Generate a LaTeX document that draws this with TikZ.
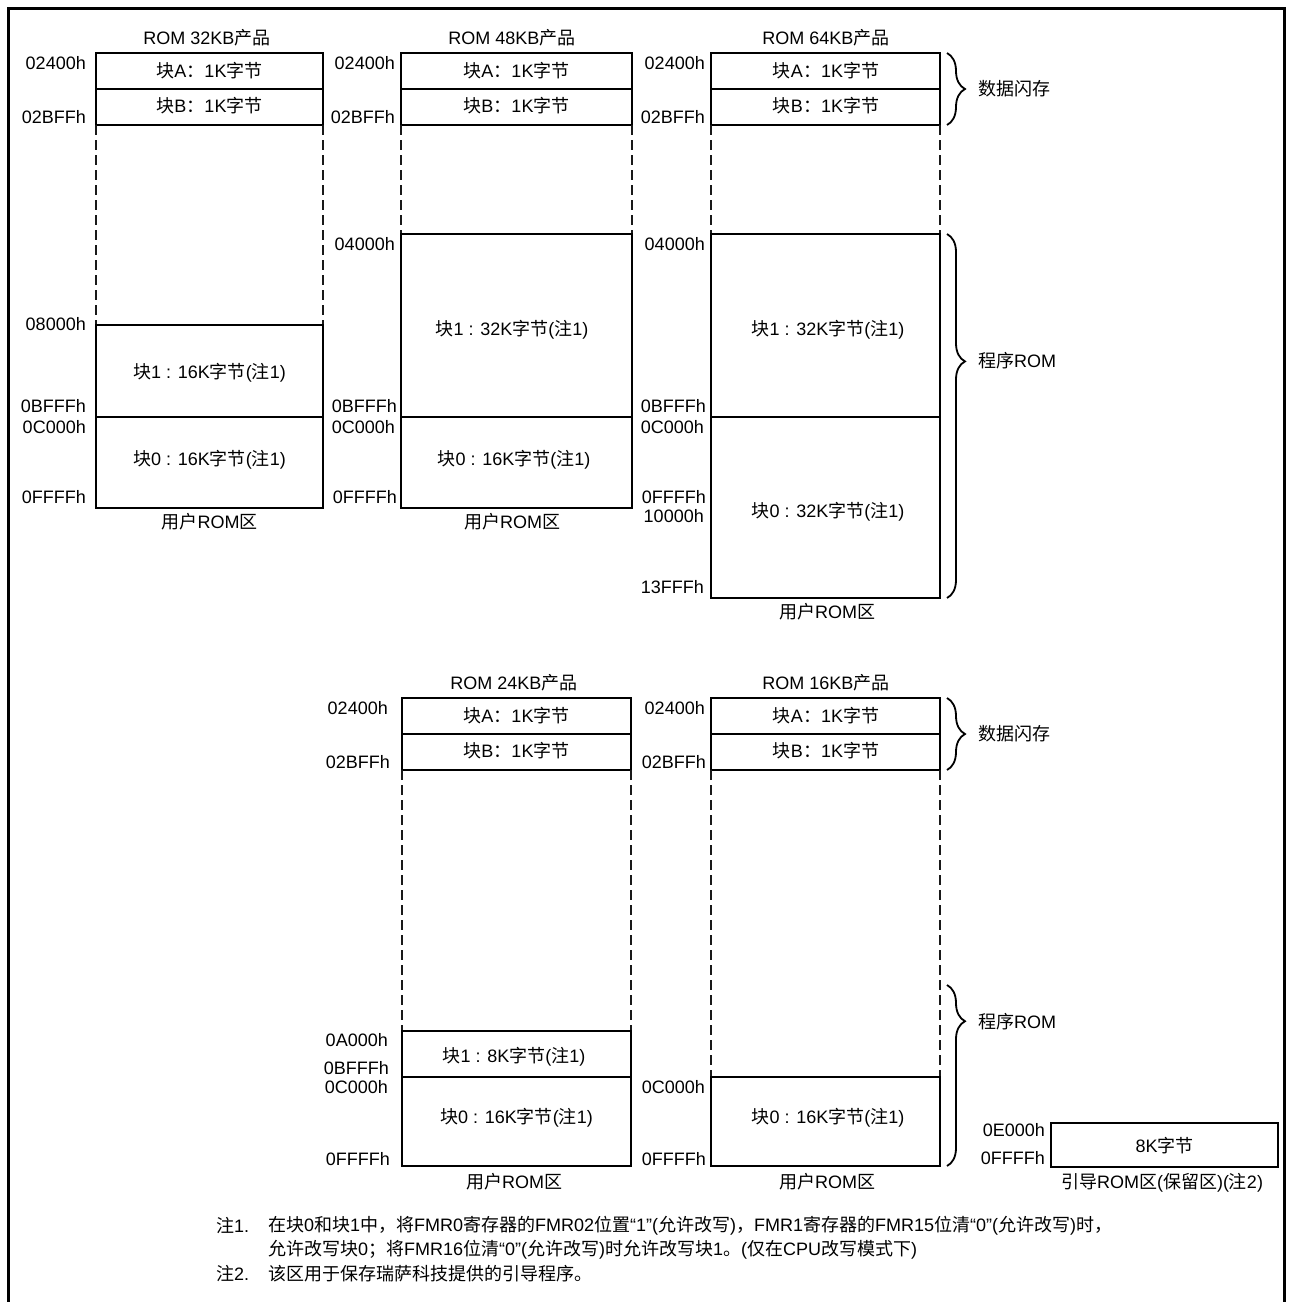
\documentclass[tikz,border=0pt]{standalone}
\usepackage{fontspec}
\setmainfont{Liberation Sans}
\newfontfamily\zhfont{Noto Sans CJK SC}
\newcommand\zh[1]{{\zhfont #1}}
\usetikzlibrary{decorations.pathreplacing}
\begin{document}
\begin{tikzpicture}[x=1pt,y=-1pt,
  every node/.style={font=\fontsize{18}{20}\selectfont, inner sep=0pt},
  box/.style={draw, line width=2pt},
  dsh/.style={line width=2.6pt, dash pattern=on 10pt off 5pt, draw=black!90},
  addr/.style={anchor=east},
  lbl/.style={anchor=west},
  brc/.style={decorate, decoration={brace, amplitude=18pt, #1}, line width=1.8pt},
  brc/.default={aspect=0.5},
]
\useasboundingbox (0,0) rectangle (1292,1302);
\draw[line width=3pt] (8,1302) -- (8,8) -- (1284,8) -- (1284,1302);

% ---------- Panel 1: ROM 32KB ----------
\draw[box] (96,53) rectangle (323,125);
\draw[box] (96,89) -- (323,89);
\draw[dsh] (96,125) -- (96,325);
\draw[dsh] (323,125) -- (323,325);
\draw[box] (96,325) rectangle (323,508);
\draw[box] (96,417) -- (323,417);
\node (p1t) at (207,38) {ROM 32KB\zh{产品}};
\node (p1a) at (209.5,71) {\zh{块}A\zh{：}1K\zh{字节}};
\node (p1b) at (209.5,106) {\zh{块}B\zh{：}1K\zh{字节}};
\node (p1k1) at (209.5,373) {\zh{块}1 : 16K\zh{字节}(\zh{注}1)};
\node (p1k0) at (209.5,460) {\zh{块}0 : 16K\zh{字节}(\zh{注}1)};
\node (p1u) at (209.5,522) {\zh{用户}ROM\zh{区}};
\node[addr] (p1l1) at (86,63) {02400h};
\node[addr] (p1l2) at (86,117) {02BFFh};
\node[addr] (p1l3) at (86,324) {08000h};
\node[addr] (p1l4) at (86,406) {0BFFFh};
\node[addr] (p1l5) at (86,427) {0C000h};
\node[addr] (p1l6) at (86,497) {0FFFFh};

% ---------- Panel 2: ROM 48KB ----------
\draw[box] (401,53) rectangle (632,125);
\draw[box] (401,89) -- (632,89);
\draw[dsh] (401,125) -- (401,234);
\draw[dsh] (632,125) -- (632,234);
\draw[box] (401,234) rectangle (632,508);
\draw[box] (401,417) -- (632,417);
\node (p2t) at (512,38) {ROM 48KB\zh{产品}};
\node (p2a) at (516.5,71) {\zh{块}A\zh{：}1K\zh{字节}};
\node (p2b) at (516.5,106) {\zh{块}B\zh{：}1K\zh{字节}};
\node (p2k1) at (512,330) {\zh{块}1 : 32K\zh{字节}(\zh{注}1)};
\node (p2k0) at (514,460) {\zh{块}0 : 16K\zh{字节}(\zh{注}1)};
\node (p2u) at (512,522) {\zh{用户}ROM\zh{区}};
\node[addr] (p2l1) at (395,63) {02400h};
\node[addr] (p2l2) at (395,117) {02BFFh};
\node[addr] (p2l3) at (395,244) {04000h};
\node[addr] (p2l4) at (397,406) {0BFFFh};
\node[addr] (p2l5) at (395,427) {0C000h};
\node[addr] (p2l6) at (397,497) {0FFFFh};

% ---------- Panel 3: ROM 64KB ----------
\draw[box] (711,53) rectangle (940,125);
\draw[box] (711,89) -- (940,89);
\draw[dsh] (711,125) -- (711,234);
\draw[dsh] (940,125) -- (940,234);
\draw[box] (711,234) rectangle (940,598);
\draw[box] (711,417) -- (940,417);
\node (p3t) at (826,38) {ROM 64KB\zh{产品}};
\node (p3a) at (826,71) {\zh{块}A\zh{：}1K\zh{字节}};
\node (p3b) at (826,106) {\zh{块}B\zh{：}1K\zh{字节}};
\node (p3k1) at (828,330) {\zh{块}1 : 32K\zh{字节}(\zh{注}1)};
\node (p3k0) at (828,512) {\zh{块}0 : 32K\zh{字节}(\zh{注}1)};
\node (p3u) at (827,612) {\zh{用户}ROM\zh{区}};
\node[addr] (p3l1) at (705,63) {02400h};
\node[addr] (p3l2) at (705,117) {02BFFh};
\node[addr] (p3l3) at (705,244) {04000h};
\node[addr] (p3l4) at (706,406) {0BFFFh};
\node[addr] (p3l5) at (704,427) {0C000h};
\node[addr] (p3l6) at (706,497) {0FFFFh};
\node[addr] (p3l7) at (704,516) {10000h};
\node[addr] (p3l8) at (704,587) {13FFFh};
\draw[brc] (947,53) -- (947,125);
\node[lbl] (df1) at (978,89) {\zh{数据闪存}};
\draw[brc={aspect=0.35}] (947,234) -- (947,598);
\node[lbl] (pr1) at (978,361) {\zh{程序}ROM};

% ---------- Panel 4: ROM 24KB ----------
\draw[box] (402,698) rectangle (631,770);
\draw[box] (402,734) -- (631,734);
\draw[dsh] (402,770) -- (402,1031);
\draw[dsh] (631,770) -- (631,1031);
\draw[box] (402,1031) rectangle (631,1166);
\draw[box] (402,1077) -- (631,1077);
\node (p4t) at (514,683) {ROM 24KB\zh{产品}};
\node (p4a) at (516.5,716) {\zh{块}A\zh{：}1K\zh{字节}};
\node (p4b) at (516.5,751) {\zh{块}B\zh{：}1K\zh{字节}};
\node (p4k1) at (514,1057) {\zh{块}1 : 8K\zh{字节}(\zh{注}1)};
\node (p4k0) at (516.5,1118) {\zh{块}0 : 16K\zh{字节}(\zh{注}1)};
\node (p4u) at (514,1182) {\zh{用户}ROM\zh{区}};
\node[addr] (p4l1) at (388,708) {02400h};
\node[addr] (p4l2) at (390,762) {02BFFh};
\node[addr] (p4l3) at (388,1040) {0A000h};
\node[addr] (p4l4) at (389,1068) {0BFFFh};
\node[addr] (p4l5) at (388,1087) {0C000h};
\node[addr] (p4l6) at (390,1159) {0FFFFh};

% ---------- Panel 5: ROM 16KB ----------
\draw[box] (711,698) rectangle (940,770);
\draw[box] (711,734) -- (940,734);
\draw[dsh] (711,770) -- (711,1077);
\draw[dsh] (940,770) -- (940,1077);
\draw[box] (711,1077) rectangle (940,1166);
\node (p5t) at (826,683) {ROM 16KB\zh{产品}};
\node (p5a) at (826,716) {\zh{块}A\zh{：}1K\zh{字节}};
\node (p5b) at (826,751) {\zh{块}B\zh{：}1K\zh{字节}};
\node (p5k0) at (828,1118) {\zh{块}0 : 16K\zh{字节}(\zh{注}1)};
\node (p5u) at (827,1182) {\zh{用户}ROM\zh{区}};
\node[addr] (p5l1) at (705,708) {02400h};
\node[addr] (p5l2) at (706,762) {02BFFh};
\node[addr] (p5l3) at (705,1087) {0C000h};
\node[addr] (p5l4) at (706,1159) {0FFFFh};
\draw[brc] (947,698) -- (947,770);
\node[lbl] (df2) at (978,734) {\zh{数据闪存}};
\draw[brc={aspect=0.2}] (947,985) -- (947,1166);
\node[lbl] (pr2) at (978,1022) {\zh{程序}ROM};

% ---------- Boot ROM ----------
\draw[box] (1051,1123) rectangle (1278,1167);
\node (bt) at (1164.5,1146) {8K\zh{字节}};
\node[addr] (bl1) at (1045,1130) {0E000h};
\node[addr] (bl2) at (1045,1158) {0FFFFh};
\node (bu) at (1162,1183) {\zh{引导}ROM\zh{区}(\zh{保留区})(\zh{注}2)};

% ---------- Notes ----------
\node[lbl] (n1) at (216,1226) {\zh{注}1.};
\node[lbl] (n1a) at (268,1226) {\zh{在块}0\zh{和块}1\zh{中，将}FMR0\zh{寄存器的}FMR02\zh{位置}“1”(\zh{允许改写})\zh{，}FMR1\zh{寄存器的}FMR15\zh{位清}“0”(\zh{允许改写})\zh{时，}};
\node[lbl] (n1b) at (268,1250) {\zh{允许改写块}0\zh{；将}FMR16\zh{位清}“0”(\zh{允许改写})\zh{时允许改写块}1\zh{。}(\zh{仅在}CPU\zh{改写模式下})};
\node[lbl] (n2) at (216,1274) {\zh{注}2.};
\node[lbl] (n2a) at (268,1274) {\zh{该区用于保存瑞萨科技提供的引导程序。}};
\end{tikzpicture}
\end{document}
